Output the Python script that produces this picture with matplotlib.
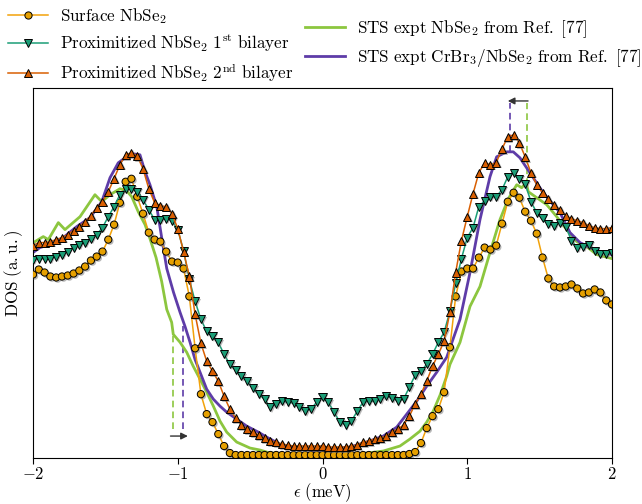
import numpy as np
import matplotlib
matplotlib.use("Agg")
import matplotlib.pyplot as plt
import matplotlib.patheffects as pe
from matplotlib.lines import Line2D

plt.rcParams.update({
    "mathtext.fontset": "cm",
    "font.family": "serif",
    "font.serif": ["cmr10", "DejaVu Serif"],
    "axes.formatter.use_mathtext": True,
    "font.size": 12.3,
})

# ---------------- data (DOS in arbitrary units) ----------------
energy = np.round(np.arange(-2.0, 2.0001, 0.04), 2)

surface = np.array([
    184, 189, 186, 182, 181, 182, 183, 185, 188, 192,
    198, 202, 207, 219, 234, 256, 277, 280, 262, 245,
    226, 219, 217, 207, 197, 196, 190, 162, 110, 64,
    44, 36, 24, 12, 5, 3, 3, 3, 3, 3,
    3, 3, 3, 3, 3, 3, 3, 3, 3, 3,
    3, 3, 3, 3, 3, 3, 3, 3, 3, 3,
    3, 3, 3, 3, 3, 4, 6, 15, 30, 42,
    49, 66, 111, 162, 187, 190, 190, 201, 211, 209,
    213, 235, 257, 266, 261, 247, 238, 225, 201, 180,
    172, 171, 172, 174, 170, 165, 166, 169, 166, 158,
    154]) / 100.0

bilayer1 = np.array([
    199, 200, 200, 200, 202, 204, 207, 211, 214, 216,
    220, 224, 231, 242, 252, 264, 270, 270, 267, 259,
    249, 239, 239, 240, 238, 229, 208, 179, 157, 139,
    127, 122, 116, 104, 94, 88, 82, 77, 70, 64,
    59, 51, 54, 57, 56, 55, 51, 47, 49, 56,
    61, 56, 46, 36, 33, 37, 47, 56, 57, 57,
    59, 62, 60, 57, 59, 71, 83, 87, 94, 104,
    116, 126, 147, 175, 200, 221, 231, 252, 258, 262,
    262, 269, 282, 286, 280, 275, 257, 246, 241, 235,
    233, 236, 232, 218, 211, 212, 214, 208, 205, 205,
    206]) / 100.0

bilayer2 = np.array([
    213, 216, 216, 217, 219, 221, 224, 228, 232, 237,
    243, 251, 257, 267, 280, 294, 304, 306, 303, 290,
    270, 256, 253, 252, 245, 230, 207, 182, 144, 115,
    97, 87, 77, 62, 49, 40, 33, 29, 26, 23,
    20, 17, 16, 14, 13, 12, 12, 12, 12, 12,
    12, 11, 11, 11, 11, 12, 13, 16, 17, 19,
    20, 22, 26, 29, 33, 42, 54, 64, 77, 92,
    104, 117, 146, 186, 218, 242, 265, 286, 296, 294,
    296, 310, 322, 324, 316, 302, 286, 274, 266, 260,
    254, 249, 243, 240, 238, 236, 233, 231, 230, 230,
    231]) / 100.0

expt_nbse2_e = np.array([
    -1.986, -1.929, -1.894, -1.825, -1.779, -1.675, -1.572, -1.525, -1.468,
    -1.399, -1.353, -1.318, -1.273, -1.226, -1.192, -1.150, -1.111, -1.076, -1.042,
    -1.031, -0.984, -0.938, -0.893, -0.846, -0.800, -0.754, -0.708, -0.662, -0.593,
    -0.501, -0.432, -0.363, -0.225, -0.040, 0.121, 0.259, 0.420, 0.535, 0.604,
    0.674, 0.720, 0.765, 0.812, 0.858, 0.881, 0.950, 1.019, 1.088, 1.157,
    1.226, 1.284, 1.342, 1.376, 1.406, 1.422, 1.480, 1.549, 1.618, 1.687,
    1.756, 1.825, 1.894, 1.998])
expt_nbse2 = np.array([
    217, 222, 219, 236, 229, 242, 264, 257, 264,
    270, 268, 262, 247, 234, 220, 201, 177, 149, 136,
    124, 116, 106, 92, 79, 66, 52, 37, 26, 16,
    10, 8, 5, 4, 3, 3.5, 4, 7, 12, 19,
    27, 36, 47, 63, 82, 94, 116, 152, 172, 206,
    239, 260, 274, 271, 276, 267, 261, 254, 242, 229,
    217, 212, 204, 200]) / 100.0

expt_crbr3_e = np.array([
    -2.000, -1.952, -1.883, -1.791, -1.698, -1.606, -1.525, -1.468, -1.411, -1.353,
    -1.307, -1.261, -1.226, -1.192, -1.145, -1.111, -1.076, -1.029, -0.984, -0.950,
    -0.915, -0.881, -0.846, -0.800, -0.754, -0.708, -0.662, -0.593, -0.524, -0.444,
    -0.386, -0.271, -0.155, -0.040, 0.075, 0.190, 0.305, 0.420, 0.513, 0.582,
    0.651, 0.720, 0.789, 0.858, 0.950, 1.019, 1.088, 1.157, 1.203, 1.273,
    1.318, 1.364, 1.456, 1.525, 1.594, 1.641, 1.710, 1.779, 1.848, 1.917,
    1.998])
expt_crbr3 = np.array([
    206, 211, 214, 221, 232, 241, 257, 281, 296, 302,
    305, 304, 287, 274, 252, 221, 190, 166, 146, 132,
    116, 99, 86, 69, 59, 52, 46, 39, 32, 26,
    21, 12, 9, 7, 9, 11, 16, 22, 31, 44,
    57, 72, 86, 101, 139, 186, 239, 282, 302, 307,
    307, 301, 281, 266, 254, 246, 226, 216, 211, 207,
    204]) / 100.0

# gap-edge markers (energy of gap edge for each experiment)
gap_left = {"nbse2": -1.035, "crbr3": -0.962}
gap_right = {"nbse2": 1.411, "crbr3": 1.295}
gap_left_top = {"nbse2": 1.22, "crbr3": 1.32}
gap_right_bot = {"nbse2": 2.74, "crbr3": 3.07}
left_base, left_arrow_y = 0.29, 0.22
right_top, right_arrow_y = 3.56, 3.58
left_arrow = (-1.05, -0.93)
right_arrow = (1.42, 1.28)

labels = [
    r"$\mathrm{Surface\ NbSe_2}$",
    r"$\mathrm{Proximitized\ NbSe_2\ 1^{st}\ bilayer}$",
    r"$\mathrm{Proximitized\ NbSe_2\ 2^{nd}\ bilayer}$",
    r"$\mathrm{STS\ expt\ NbSe_2\ from\ Ref.\ [77]}$",
    r"$\mathrm{STS\ expt\ CrBr_3/NbSe_2\ from\ Ref.\ [77]}$",
]

c_surf_face, c_surf_line = "#E6A000", "#F2A20A"
c_b1 = "#1B9E77"
c_b2 = "#D95F02"
c_green = "#8CC63F"
c_purple = "#5E3CA8"

# ---------------- figure ----------------
fig = plt.figure(figsize=(6.42, 5.04), dpi=100)
ax = fig.add_axes([33 / 642, 46 / 504, 579 / 642, 370 / 504])

ax.plot(expt_nbse2_e, expt_nbse2, color=c_green, lw=2.0, zorder=2)
ax.plot(expt_crbr3_e, expt_crbr3, color=c_purple, lw=2.0, zorder=2)

shadow = [pe.SimplePatchShadow(offset=(1.2, -1.2), shadow_rgbFace="0.45", alpha=0.5), pe.Normal()]

def series(y, face, line, marker, ms, z):
    ax.plot(energy, y, color=line, lw=1.1, zorder=z)
    ax.plot(energy, y, ls="none", marker=marker, ms=ms, mfc=face, mec="black",
            mew=0.7, zorder=z + 0.5, path_effects=shadow)

series(surface, c_surf_face, c_surf_line, "o", 5.2, 3)
series(bilayer1, c_b1, c_b1, "v", 5.8, 4)
series(bilayer2, c_b2, c_b2, "^", 5.8, 5)

# dashed gap markers and arrows
dash = (0, (4, 2.5))
ax.plot([gap_left["nbse2"]] * 2, [left_base, gap_left_top["nbse2"]], ls=dash,
        color=c_green, lw=1.2, zorder=1)
ax.plot([gap_left["crbr3"]] * 2, [left_base, gap_left_top["crbr3"]], ls=dash,
        color=c_purple, lw=1.2, zorder=1)
ax.plot([gap_right["nbse2"]] * 2, [gap_right_bot["nbse2"], right_top], ls=dash,
        color=c_green, lw=1.2, zorder=1)
ax.plot([gap_right["crbr3"]] * 2, [gap_right_bot["crbr3"], right_top], ls=dash,
        color=c_purple, lw=1.2, zorder=1)
ax.annotate("", xy=(left_arrow[1], left_arrow_y), xytext=(left_arrow[0], left_arrow_y),
            arrowprops=dict(arrowstyle="-|>", color="#333333", lw=1.0, mutation_scale=10,
                            shrinkA=0, shrinkB=0))
ax.annotate("", xy=(right_arrow[1], right_arrow_y), xytext=(right_arrow[0], right_arrow_y),
            arrowprops=dict(arrowstyle="-|>", color="#333333", lw=1.0, mutation_scale=10,
                            shrinkA=0, shrinkB=0))

ax.set_xlim(-2, 2)
ax.set_ylim(0, 3.71)
ax.set_xticks([-2, -1, 0, 1, 2], labels=[r"$-2$", r"$-1$", r"$0$", r"$1$", r"$2$"])
ax.set_yticks([])
ax.tick_params(axis="x", labelsize=12.0, length=4, width=0.8, pad=2)
ax.set_xlabel(r"$\epsilon\ \mathrm{(meV)}$", fontsize=12.0, labelpad=-1)
ax.set_ylabel(r"$\mathrm{DOS\ (a.u.)}$", fontsize=12.3, labelpad=6)

# legends
h1 = Line2D([], [], color=c_surf_line, lw=1.1, marker="o", ms=5.2, mfc=c_surf_face, mec="black", mew=0.7)
h2 = Line2D([], [], color=c_b1, lw=1.1, marker="v", ms=5.8, mfc=c_b1, mec="black", mew=0.7)
h3 = Line2D([], [], color=c_b2, lw=1.1, marker="^", ms=5.8, mfc=c_b2, mec="black", mew=0.7)
h4 = Line2D([], [], color=c_green, lw=2.0)
h5 = Line2D([], [], color=c_purple, lw=2.0)

fig.legend([h1, h2, h3], labels[:3], loc="upper left", bbox_to_anchor=(0.0125, 0.988),
           frameon=False, fontsize=12.3, handlelength=2.35, handletextpad=0.7,
           labelspacing=0.40, borderaxespad=0.0, borderpad=0.0, numpoints=1)
fig.legend([h4, h5], labels[3:], loc="upper left", bbox_to_anchor=(0.475, 0.964),
           frameon=False, fontsize=12.3, handlelength=2.35, handletextpad=0.7,
           labelspacing=0.42, borderaxespad=0.0, borderpad=0.0)

fig.savefig("out.png", dpi=100)
